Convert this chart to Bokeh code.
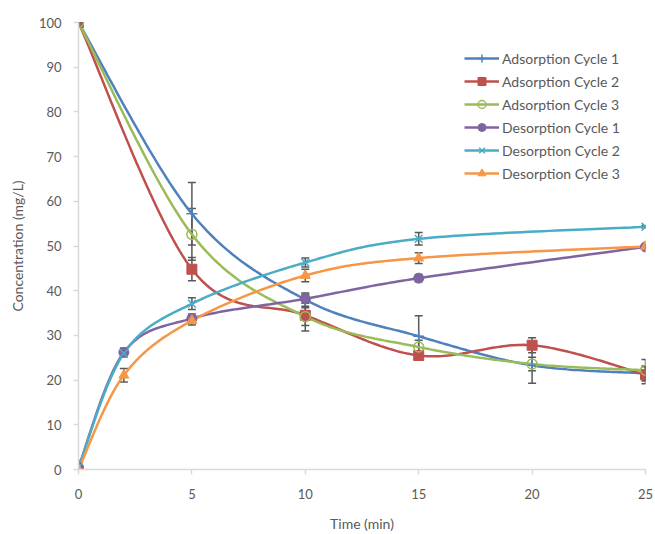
import numpy as np
from bokeh.plotting import figure
from bokeh.models import Range1d, Whisker, TeeHead, ColumnDataSource, FixedTicker, Legend
from bokeh.embed import file_html
from bokeh.resources import INLINE

# ---- data ----
t_ads = [0, 5, 10, 15, 20, 25]
t_des = [0, 2, 5, 10, 15, 25]

ads1 = [100, 57.2, 38.0, 29.8, 23.3, 21.5]
ads2 = [100, 44.8, 34.5, 25.5, 27.8, 21.2]
ads3 = [100, 52.6, 34.2, 27.4, 23.6, 22.2]
des1 = [0.5, 26.2, 33.8, 38.2, 42.8, 49.8]
des2 = [0.5, 26.0, 37.1, 46.3, 51.6, 54.3]
des3 = [0.0, 21.1, 33.3, 43.4, 47.3, 49.9]

err_ads1 = [0.0, 7.0, 1.5, 4.6, 4.0, 1.5]
err_ads2 = [0.0, 2.6, 3.5, 1.0, 1.7, 2.0]
err_ads3 = [0.0, 5.8, 2.0, 1.5, 1.5, 2.4]
err_des1 = [1.5, 1.0, 1.0, 1.0, 0.8, 0.4]
err_des2 = [1.2, 0.6, 1.3, 1.0, 1.4, 0.3]
err_des3 = [0.5, 1.5, 1.0, 1.4, 1.2, 0.4]

y_ticks = [0, 10, 20, 30, 40, 50, 60, 70, 80, 90, 100]
x_ticks = [0, 5, 10, 15, 20, 25]

BLUE, RED, GREEN, PURPLE, CYAN, ORANGE = "#4F81BD", "#C0504D", "#9BBB59", "#8064A2", "#4BACC6", "#F79646"
GRAY = "#595959"
FONT = "Lato"

# frame geometry (pixels per unit) for smoothing in screen space
SX = 567 / 25.0
SY = 447 / 100.0


def smooth(xs, ys, n=40):
    P = np.column_stack([np.asarray(xs, float) * SX, np.asarray(ys, float) * SY])
    m = len(P)
    out = []
    for i in range(m - 1):
        p0 = P[max(i - 1, 0)]
        p1 = P[i]
        p2 = P[i + 1]
        p3 = P[min(i + 2, m - 1)]
        c1 = p1 + (p2 - p0) / 6.0
        c2 = p2 - (p3 - p1) / 6.0
        tt = np.linspace(0, 1, n)[:, None]
        seg = ((1 - tt) ** 3) * p1 + 3 * ((1 - tt) ** 2) * tt * c1 + 3 * (1 - tt) * tt ** 2 * c2 + tt ** 3 * p2
        out.append(seg if i == 0 else seg[1:])
    S = np.vstack(out)
    return S[:, 0] / SX, S[:, 1] / SY


p = figure(width=655, height=534, output_backend="svg", toolbar_location=None,
           x_range=Range1d(0, 25), y_range=Range1d(0, 100),
           min_border_left=78, min_border_right=10, min_border_top=22, min_border_bottom=65)
p.outline_line_color = None
p.xgrid.grid_line_color = None
p.ygrid.grid_line_color = None

series = [
    ("Adsorption Cycle 1", t_ads, ads1, err_ads1, BLUE, "cross"),
    ("Adsorption Cycle 2", t_ads, ads2, err_ads2, RED, "square"),
    ("Adsorption Cycle 3", t_ads, ads3, err_ads3, GREEN, "circle_open"),
    ("Desorption Cycle 1", t_des, des1, err_des1, PURPLE, "circle"),
    ("Desorption Cycle 2", t_des, des2, err_des2, CYAN, "x"),
    ("Desorption Cycle 3", t_des, des3, err_des3, ORANGE, "triangle"),
]

items = []
line_rs = {}
for name, xs, ys, es, col, mk in series:
    sx, sy = smooth(xs, ys)
    lr = p.line(sx, sy, line_color=col, line_width=2.5)
    line_rs[name] = lr

for name, xs, ys, es, col, mk in series:
    src = ColumnDataSource(dict(x=xs, up=[a + b for a, b in zip(ys, es)], lo=[a - b for a, b in zip(ys, es)]))
    w = Whisker(source=src, base="x", upper="up", lower="lo", dimension="height",
                line_color=GRAY, line_width=1.5,
                upper_head=TeeHead(size=8, line_color=GRAY, line_width=1.5),
                lower_head=TeeHead(size=8, line_color=GRAY, line_width=1.5))
    p.add_layout(w)

for name, xs, ys, es, col, mk in series:
    if mk == "circle_open":
        sr = p.scatter(xs, ys, marker="circle", size=10, line_color=col, fill_color="white", fill_alpha=0.0, line_width=1.5)
    elif mk in ("cross", "x"):
        sr = p.scatter(xs, ys, marker=mk, size=11, line_color=col, line_width=1.5)
    else:
        sr = p.scatter(xs, ys, marker=mk, size=10, line_color=col, fill_color=col)
    items.append((name, [line_rs[name], sr]))

legend = Legend(items=items, location=(386, 286))
legend.background_fill_alpha = 0
legend.border_line_color = None
legend.label_text_font = FONT
legend.label_text_font_size = "14px"
legend.label_text_color = GRAY
legend.glyph_width = 35
legend.glyph_height = 20
legend.label_height = 20
legend.spacing = 3
legend.padding = 0
legend.margin = 0
legend.label_standoff = 3
p.add_layout(legend)

for ax in (p.xaxis[0], p.yaxis[0]):
    ax.axis_line_color = "#D9D9D9"
    ax.axis_line_width = 1.5
    ax.major_tick_line_color = "#D9D9D9"
    ax.major_tick_line_width = 1.5
    ax.major_tick_out = 5
    ax.major_tick_in = 0
    ax.minor_tick_line_color = None
    ax.major_label_text_font = FONT
    ax.major_label_text_font_size = "13px"
    ax.major_label_text_color = GRAY
    ax.axis_label_text_font = FONT
    ax.axis_label_text_font_size = "14px"
    ax.axis_label_text_color = GRAY
    ax.axis_label_text_font_style = "normal"

p.xaxis.ticker = FixedTicker(ticks=x_ticks)
p.yaxis.ticker = FixedTicker(ticks=y_ticks)
p.xaxis.major_label_standoff = 14
p.yaxis.major_label_standoff = 12
p.xaxis.axis_label = "Time (min)"
p.yaxis.axis_label = "Concentration (mg/L)"
p.xaxis.axis_label_standoff = 13
p.yaxis.axis_label_standoff = 10

open("out.html", "w").write(file_html(p, INLINE))
